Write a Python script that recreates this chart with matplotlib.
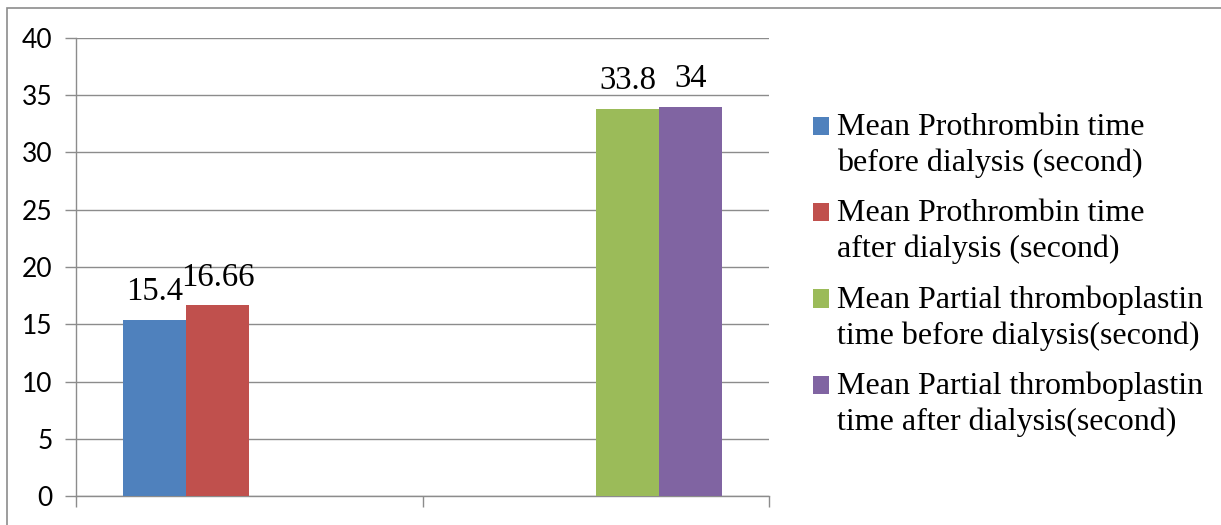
import numpy as np
import matplotlib
matplotlib.use('Agg')
import matplotlib.pyplot as plt
import matplotlib.patches as mpatches
from matplotlib.legend_handler import HandlerPatch

# Two (unlabelled) category groups, four series; blank cells are NaN
categories = ['', '']
series_names = [
    'Mean Prothrombin time\nbefore dialysis (second)',
    'Mean Prothrombin time\nafter dialysis (second)',
    'Mean Partial thromboplastin\ntime before dialysis(second)',
    'Mean Partial thromboplastin\ntime after dialysis(second)',
]
pt_before = [15.4, np.nan]
pt_after = [16.66, np.nan]
ptt_before = [np.nan, 33.8]
ptt_after = [np.nan, 34]
value_labels = [['15.4', ''], ['16.66', ''], ['', '33.8'], ['', '34']]
colors = ['#4f81bd', '#c0504d', '#9bbb59', '#8064a2']

W, H = 1221, 525
fig = plt.figure(figsize=(W / 100, H / 100), dpi=100)

# chart-area frame (runs past the right and bottom edges)
fig.patches.append(mpatches.Rectangle((7 / W, -0.2), 1.2, 1.2 - 8 / H,
                                      transform=fig.transFigure,
                                      fill=False, edgecolor='#8c8c8c', lw=1.2))

ax = fig.add_axes([76 / W, 1 - 496 / H, (769.5 - 76) / W, (496 - 38) / H])

grid_c = '#8c8c8c'
x = np.arange(len(categories))
bw = 63 / 347
offsets = np.array([-1.5, -0.5, 0.5, 1.5]) * bw
series = [pt_before, pt_after, ptt_before, ptt_after]

bars = []
for vals, off, c, lab, txt in zip(series, offsets, colors, series_names, value_labels):
    b = ax.bar(x + off, vals, width=bw, color=c, label=lab, zorder=3)
    bars.append(b)
    ax.bar_label(b, labels=txt, padding=9, fontsize=23.5,
                 family='Liberation Serif', color='black')

ax.set_xlim(-0.5, 1.5)
ax.set_ylim(0, 40)
ax.set_yticks(np.arange(0, 41, 5))
ax.set_xticks([-0.5, 0.5, 1.5])
ax.set_xticklabels([])
ax.yaxis.grid(True, color=grid_c, lw=1.0, zorder=0)
ax.set_axisbelow(True)
for s in ['top', 'right']:
    ax.spines[s].set_visible(False)
for s in ['left', 'bottom']:
    ax.spines[s].set_color(grid_c)
    ax.spines[s].set_linewidth(1.0)
ax.tick_params(axis='y', length=8, width=1.0, color=grid_c, pad=9,
               labelsize=19)
ax.tick_params(axis='x', length=8, width=1.0, color=grid_c)
for t in ax.get_yticklabels():
    t.set_family('Lato')


def top_square(legend, orig_handle, xdescent, ydescent, width, height, fontsize):
    # square aligned with the first line of a two-line label
    return mpatches.Rectangle((-xdescent, -ydescent + 0.6 * fontsize), width, height)


leg = fig.legend(handles=[b[0] for b in bars], labels=series_names,
                 loc='upper left', bbox_to_anchor=(813 / W, 1 - 113 / H),
                 frameon=False, prop={'family': 'Liberation Serif', 'size': 23},
                 handlelength=0.5, handleheight=0.5, handletextpad=0.25,
                 labelspacing=0.65, borderaxespad=0, borderpad=0,
                 handler_map={mpatches.Rectangle: HandlerPatch(patch_func=top_square)})
for t in leg.get_texts():
    t.set_linespacing(1.3)

fig.savefig('out.png', dpi=100)
